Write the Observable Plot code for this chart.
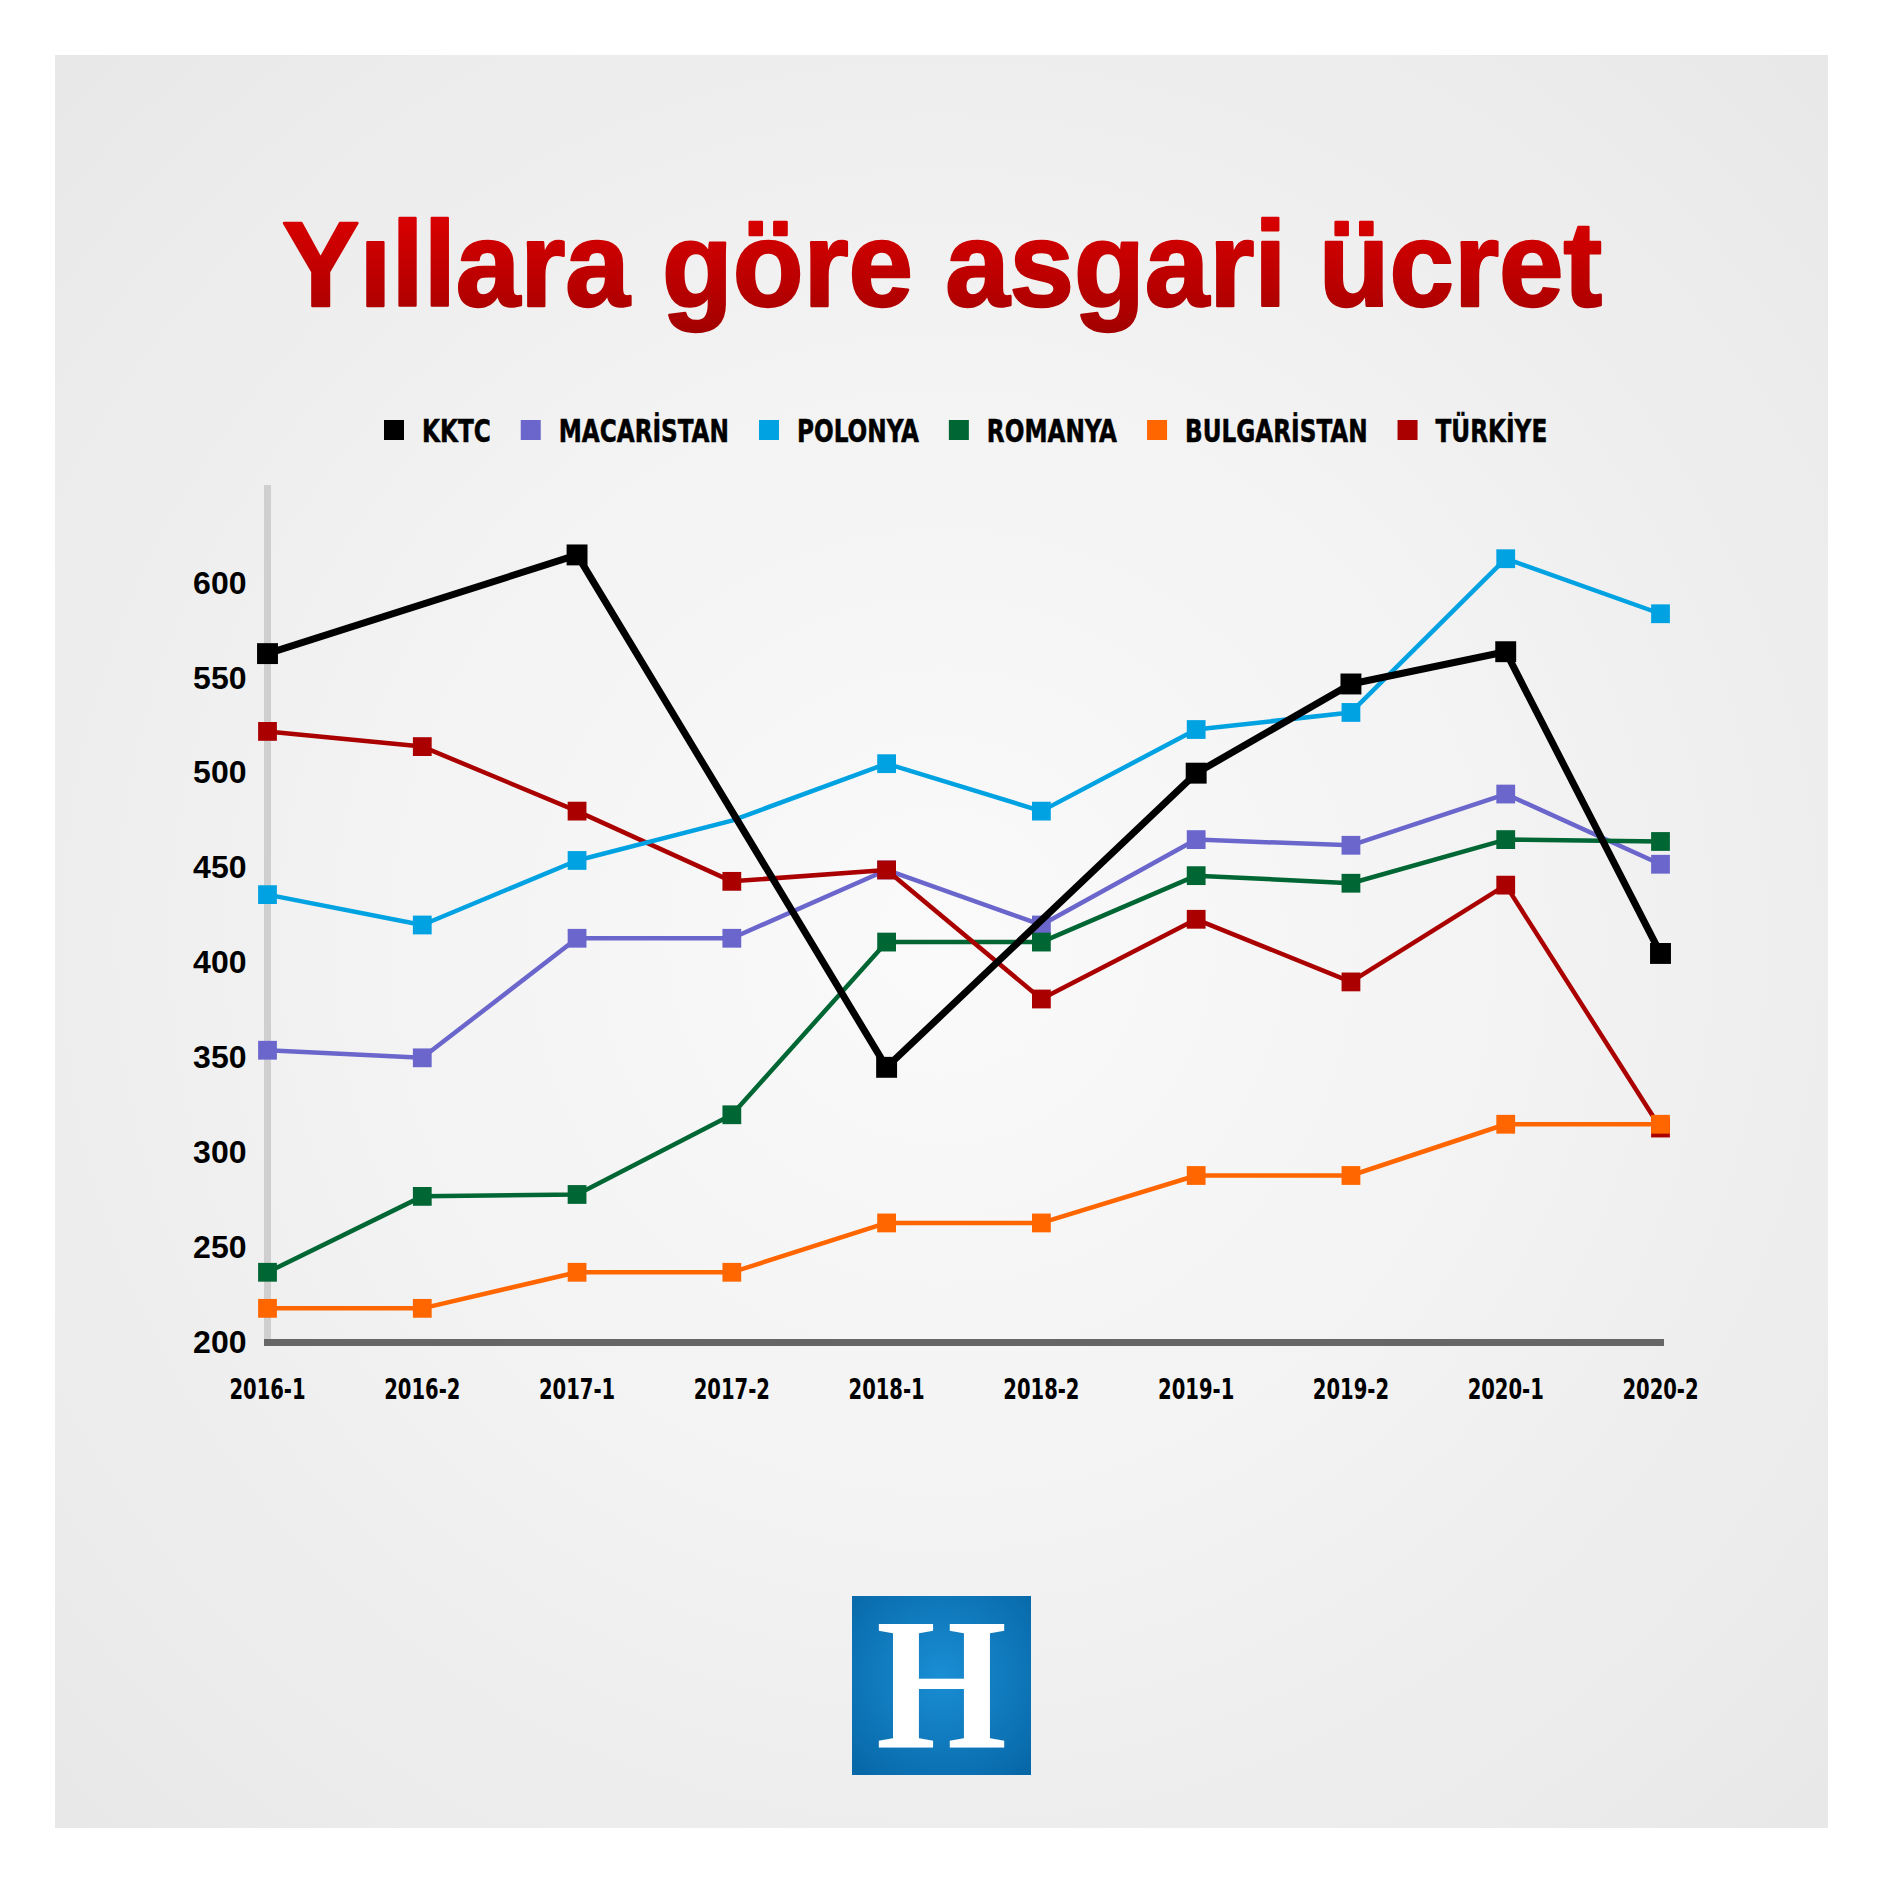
<!DOCTYPE html>
<html>
<head>
<meta charset="utf-8">
<script src="https://cdn.jsdelivr.net/npm/d3@7"></script>
<script src="https://cdn.jsdelivr.net/npm/@observablehq/plot@0.6"></script>
<style>
html, body { margin: 0; padding: 0; background: #ffffff; }
#page { position: relative; width: 1884px; height: 1883px; overflow: hidden; background: #ffffff; }
#panel { position: absolute; left: 55px; top: 55px; width: 1773px; height: 1773px;
  background: radial-gradient(ellipse 70% 70% at 50% 50%, #fafafa 0%, #f3f3f3 45%, #e8e8e8 100%); }
#deco { position: absolute; left: 0; top: 0; }
#chart { position: absolute; left: 0; top: 440px; }
</style>
</head>
<body>
<div id="page">
  <div id="panel"></div>
  <svg id="deco" width="1884" height="1883" xmlns="http://www.w3.org/2000/svg"></svg>
  <div id="chart"></div>
</div>
<script>
// ---- data ----
const periods = ["2016-1", "2016-2", "2017-1", "2017-2", "2018-1", "2018-2", "2019-1", "2019-2", "2020-1", "2020-2"];
const countries = ["KKTC", "MACARİSTAN", "POLONYA", "ROMANYA", "BULGARİSTAN", "TÜRKİYE"];
const colors = ["#000000", "#6b66cc", "#00a2e2", "#006633", "#ff6600", "#aa0000"];
const kktc        = [563, null, 615, null, 345, null, 500, 547, 564, 405];
const macaristan  = [354, 350, 413, 413, 449, 420, 465, 462, 489, 452];
const polonya     = [436, 420, 454, 475, 505, 480, 523, 532, 613, 584];
const romanya     = [237, 277, 278, 320, 411, 411, 446, 442, 465, 464];
const bulgaristan = [218, 218, 237, 237, 263, 263, 288, 288, 315, 315];
const turkiye     = [522, 514, 480, 443, 449, 381, 423, 390, 441, 313];
const seriesValues = [kktc, macaristan, polonya, romanya, bulgaristan, turkiye];
const yTicks = [200, 250, 300, 350, 400, 450, 500, 550, 600];
const noMarker = [["POLONYA", "2017-2"]];
const title = "Yıllara göre asgari ücret";
const logoLetter = "H";

// ---- long table ----
const rows = countries.flatMap((c, i) =>
  periods.map((p, j) => ({country: c, period: p, value: seriesValues[i][j]}))
).filter(d => d.value != null);
const hasMarker = d => !noMarker.some(([c, p]) => c === d.country && p === d.period);

const drawOrder = ["MACARİSTAN", "ROMANYA", "TÜRKİYE", "POLONYA", "BULGARİSTAN", "KKTC"];
const condensed = "'Liberation Sans Narrow', 'DejaVu Sans Condensed', 'Arial Narrow', sans-serif";

const plot = Plot.plot({
  width: 1884,
  height: 1000,
  marginLeft: 267,
  marginRight: 224,
  marginTop: 48,
  marginBottom: 98,
  style: {background: "transparent", color: "#000", overflow: "visible"},
  x: {type: "point", domain: periods, padding: 0, round: false},
  y: {domain: [200, 650]},
  color: {domain: countries, range: colors},
  marks: [
    Plot.frame({anchor: "left", stroke: "#cfcfcf", strokeWidth: 7}),
    Plot.axisY({ticks: yTicks, tickSize: 0, tickPadding: 21, fontSize: 32, fontWeight: "bold",
      fontFamily: "'Liberation Sans', Arial, sans-serif", fill: "#000", stroke: "#000", strokeWidth: 1.5, label: null}),
    Plot.axisX({tickSize: 0, tickPadding: 36, fontSize: 29, fontWeight: "bold",
      fontFamily: condensed, fill: "#000", stroke: "#000", strokeWidth: 0.4, label: null}),
    ...drawOrder.flatMap(c => [
      Plot.line(rows.filter(d => d.country === c), {
        x: "period", y: "value", stroke: "country",
        strokeWidth: c === "KKTC" ? 7 : 4.5, strokeLinejoin: "miter"
      }),
      Plot.dot(rows.filter(d => d.country === c && hasMarker(d)), {
        x: "period", y: "value", fill: "country", symbol: "square",
        r: c === "KKTC" ? 11.8 : 10.6
      })
    ]),
    Plot.frame({anchor: "bottom", stroke: "#666666", strokeWidth: 7})
  ]
});
document.getElementById("chart").appendChild(plot);

// condense the x tick labels (narrow face not installed)
d3.select(plot).selectAll("g[aria-label='x-axis tick label'] text").each(function () {
  const w = this.getComputedTextLength();
  this.setAttribute("textLength", (w * 0.75).toFixed(1));
  this.setAttribute("lengthAdjust", "spacingAndGlyphs");
});

// ---- decoration: title, legend, logo ----
const svg = d3.select("#deco");
const defs = svg.append("defs");
const tg = defs.append("linearGradient").attr("id", "titleGrad").attr("x1", 0).attr("y1", 0).attr("x2", 0).attr("y2", 1);
tg.append("stop").attr("offset", "0%").attr("stop-color", "#e20000");
tg.append("stop").attr("offset", "100%").attr("stop-color", "#a30000");
const lg = defs.append("radialGradient").attr("id", "logoGrad").attr("cx", "50%").attr("cy", "45%").attr("r", "70%");
lg.append("stop").attr("offset", "0%").attr("stop-color", "#1a8ed4");
lg.append("stop").attr("offset", "100%").attr("stop-color", "#0768a8");

svg.append("text")
  .attr("x", 942).attr("y", 306)
  .attr("text-anchor", "middle")
  .attr("font-family", "'Liberation Sans', Arial, sans-serif")
  .attr("font-weight", "bold")
  .attr("font-size", 120)
  .attr("textLength", 1320)
  .attr("lengthAdjust", "spacingAndGlyphs")
  .attr("fill", "url(#titleGrad)")
  .attr("stroke", "url(#titleGrad)")
  .attr("stroke-width", 2.5)
  .attr("stroke-linejoin", "round")
  .text(title);

// legend
const color = plot.scale("color");
const legend = svg.append("g");
let cx = 384;
countries.forEach((c, i) => {
  legend.append("rect").attr("x", cx).attr("y", 420).attr("width", 20).attr("height", 20)
    .attr("fill", color.range[i]);
  const t = legend.append("text").attr("x", cx + 38).attr("y", 441.5)
    .attr("font-family", condensed).attr("font-weight", "bold").attr("font-size", 32)
    .attr("fill", "#000").attr("stroke", "#000").attr("stroke-width", 0.5).text(c);
  const w = t.node().getComputedTextLength() * 0.805;
  t.attr("textLength", w.toFixed(1)).attr("lengthAdjust", "spacingAndGlyphs");
  cx += 38 + w + 30;
});

// logo
svg.append("rect").attr("x", 852).attr("y", 1596).attr("width", 179).attr("height", 179).attr("fill", "url(#logoGrad)");
svg.append("text").attr("x", 941.5).attr("y", 1748)
  .attr("text-anchor", "middle")
  .attr("font-family", "'Liberation Serif', 'DejaVu Serif', serif")
  .attr("font-weight", "bold").attr("font-size", 188)
  .attr("textLength", 131).attr("lengthAdjust", "spacingAndGlyphs")
  .attr("fill", "#ffffff").text(logoLetter);
</script>
</body>
</html>
